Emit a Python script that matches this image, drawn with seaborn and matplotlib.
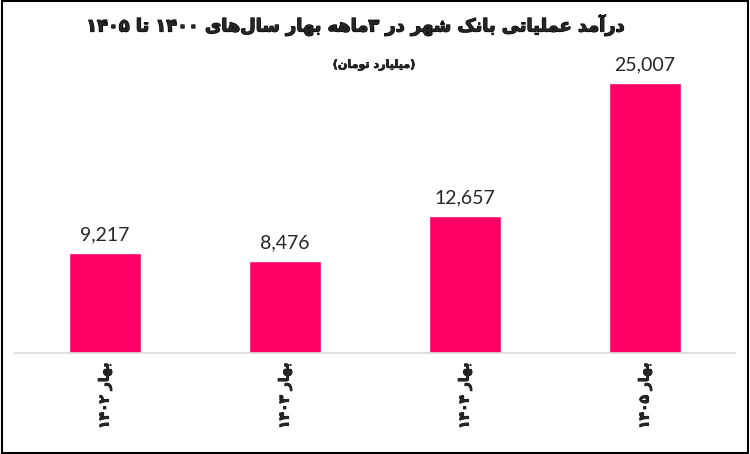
import re
import matplotlib
matplotlib.use('Agg')
import matplotlib.pyplot as plt
import matplotlib.patheffects as pe
import seaborn as sns
from matplotlib.patches import Rectangle

# داده‌ها
categories = ['بهار ۱۴۰۲', 'بهار ۱۴۰۳', 'بهار ۱۴۰۴', 'بهار ۱۴۰۵']
values = [9217, 8476, 12657, 25007]
title = 'درآمد عملیاتی بانک شهر در ۳ماهه بهار سال\u200cهای ۱۴۰۰ تا ۱۴۰۵'
subtitle = '(میلیارد تومان)'

# presentation forms: isolated, final, initial, medial
FORMS = {
    'ا': ('\uFE8D', '\uFE8E'),
    'آ': ('\uFE81', '\uFE82'),
    'د': ('\uFEA9', '\uFEAA'),
    'ر': ('\uFEAD', '\uFEAE'),
    'و': ('\uFEED', '\uFEEE'),
    'ب': ('\uFE8F', '\uFE90', '\uFE91', '\uFE92'),
    'ت': ('\uFE95', '\uFE96', '\uFE97', '\uFE98'),
    'س': ('\uFEB1', '\uFEB2', '\uFEB3', '\uFEB4'),
    'ش': ('\uFEB5', '\uFEB6', '\uFEB7', '\uFEB8'),
    'ع': ('\uFEC9', '\uFECA', '\uFECB', '\uFECC'),
    'ل': ('\uFEDD', '\uFEDE', '\uFEDF', '\uFEE0'),
    'م': ('\uFEE1', '\uFEE2', '\uFEE3', '\uFEE4'),
    'ن': ('\uFEE5', '\uFEE6', '\uFEE7', '\uFEE8'),
    'ه': ('\uFEE9', '\uFEEA', '\uFEEB', '\uFEEC'),
    'ی': ('\uFBFC', '\uFBFD', '\uFBFE', '\uFBFF'),
    'ک': ('\uFB8E', '\uFB8F', '\uFB90', '\uFB91'),
}


def shape(text):
    # متن فارسی را برای matplotlib به ترتیب دیداری می‌چیند
    out = []
    for i, c in enumerate(text):
        if c not in FORMS:
            out.append(c)
            continue
        prev = text[i - 1] if i > 0 else ''
        nxt = text[i + 1] if i + 1 < len(text) else ''
        f = FORMS[c]
        jp = prev in FORMS and len(FORMS[prev]) == 4
        jn = len(f) == 4 and nxt in FORMS
        if jp and jn:
            out.append(f[3])
        elif jp:
            out.append(f[1])
        elif jn:
            out.append(f[2])
        else:
            out.append(f[0])
    s = ''.join(out).replace('\u200c', '')[::-1]
    s = re.sub(r'[0-9۰-۹]+', lambda m: m.group()[::-1], s)
    return s.translate(str.maketrans('()', ')('))


sns.set_style('white')
plt.rcParams['font.family'] = ['DejaVu Sans']
heavy = [pe.withStroke(linewidth=0.9, foreground='black')]

fig = plt.figure(figsize=(7.5, 4.54), dpi=100)
ax = fig.add_axes([0.02, 0.2225, 0.96, 0.645])

sns.barplot(x=[shape(c) for c in categories], y=values, color='#FF0066',
            saturation=1, width=0.4, ax=ax)
ax.set_xlim(-0.5, 3.5)
ax.set_ylim(0, 27100)

ax.bar_label(ax.containers[0], labels=[f'{v:,}' for v in values], padding=7,
             fontsize=14, family='Lato', color='#262626')

for s in ['top', 'right', 'left']:
    ax.spines[s].set_visible(False)
ax.spines['bottom'].set_color('#d9d9d9')
ax.spines['bottom'].set_linewidth(1.2)
ax.set_yticks([])
ax.set_ylabel('')
ax.tick_params(axis='x', length=0, pad=7)
for lab in ax.get_xticklabels():
    lab.set_rotation(90)
    lab.set_fontsize(10)
    lab.set_fontweight('bold')
    lab.set_path_effects([pe.withStroke(linewidth=0.6, foreground='black')])

fig.text(356 / 750, 1 - 25 / 454, shape(title), ha='center', va='center',
         fontsize=12.8, fontweight='bold', path_effects=heavy)
fig.text(374 / 750, 1 - 65 / 454, shape(subtitle), ha='center', va='center',
         fontsize=8, fontweight='bold',
         path_effects=[pe.withStroke(linewidth=0.5, foreground='black')])

fig.patches.append(Rectangle((0.002, 0.003), 0.995, 0.994, transform=fig.transFigure,
                             fill=False, edgecolor='black', linewidth=1.5))

fig.savefig('out.png', dpi=100)
